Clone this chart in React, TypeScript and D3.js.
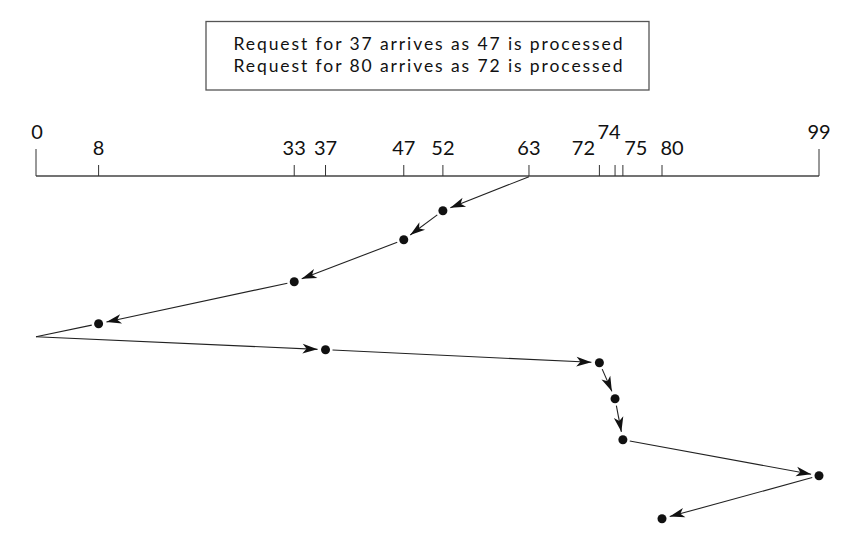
import React from "react";
import * as d3 from "d3";

// ---- data ----
const tickTracks = [0, 8, 33, 37, 47, 52, 63, 72, 74, 75, 80, 99];
const raisedLabels = [0, 74, 99];
const visitTracks = [63, 52, 47, 33, 8, 0, 37, 72, 74, 75, 99, 80];
const visitTimes = [0, 34, 63, 105, 147, 160, 173, 186, 222, 263, 299, 342];
const requestTracks = [52, 47, 33, 8, 37, 72, 74, 75, 99, 80];
const noteLines = [
  "Request for 37 arrives as 47 is processed",
  "Request for 80 arrives as 72 is processed",
];

const W = 851;
const H = 541;
const FONT = "Lato, 'Open Sans', sans-serif";
const AXIS_Y = 176;

const labelNudge: Record<number, number> = { 0: 1, 72: -16, 74: -6, 75: 13, 80: 10 };

export default function App() {
  const x = d3.scaleLinear().domain([0, 80, 99]).range([36, 662, 819]);
  const y = d3.scaleLinear().domain([0, 342]).range([176.7, 518.7]);

  const pts = visitTracks.map((t, i) => ({
    t,
    x: x(t),
    y: y(visitTimes[i]),
    dot: i > 0 && requestTracks.includes(t),
  }));

  const segs = pts.slice(1).map((p, i) => {
    const a = pts[i];
    const dx = p.x - a.x;
    const dy = p.y - a.y;
    const len = Math.hypot(dx, dy);
    const ux = dx / len;
    const uy = dy / len;
    const g0 = a.dot ? 7 : 0;
    const g1 = p.dot ? 8 : 0;
    return {
      x1: a.x + ux * g0,
      y1: a.y + uy * g0,
      x2: p.x - ux * g1,
      y2: p.y - uy * g1,
      arrow: p.dot,
      angle: (Math.atan2(dy, dx) * 180) / Math.PI,
    };
  });

  const line = d3.line<[number, number]>();

  return (
    <svg
      width={W}
      height={H}
      style={{ position: "fixed", left: 0, top: 0, background: "#fff" }}
      fontFamily={FONT}
    >
      {/* note box */}
      <rect x={206} y={21.5} width={443} height={68.5} fill="none" stroke="#555" strokeWidth={1.3} />
      {noteLines.map((s, i) => (
        <text
          key={i}
          x={428}
          y={50.3 + i * 21.2}
          textAnchor="middle"
          fontSize={17.5}
          textLength={389}
          lengthAdjust="spacing"
          fill="#111"
        >
          {s}
        </text>
      ))}

      {/* axis */}
      <line x1={x(0)} x2={x(99)} y1={AXIS_Y} y2={AXIS_Y} stroke="#444" strokeWidth={1.5} />
      {tickTracks.map((t) => {
        const end = t === 0 || t === 99;
        return (
          <g key={t}>
            <line
              x1={x(t)}
              x2={x(t)}
              y1={end ? 149 : 165}
              y2={AXIS_Y}
              stroke="#333"
              strokeWidth={1}
            />
            <text
              x={x(t) + (labelNudge[t] || 0)}
              y={raisedLabels.includes(t) ? 139 : 155}
              textAnchor="middle"
              fontSize={20}
              fill="#111"
            >
              {t}
            </text>
          </g>
        );
      })}

      {/* path segments */}
      {segs.map((s, i) => (
        <g key={i}>
          <path
            d={line([
              [s.x1, s.y1],
              [s.x2, s.y2],
            ]) || ""}
            stroke="#222"
            strokeWidth={1.1}
            fill="none"
          />
          {s.arrow && (
            <path
              d="M0,0 L-15,-4.8 L-11,0 L-15,4.8 Z"
              transform={`translate(${s.x2},${s.y2}) rotate(${s.angle})`}
              fill="#111"
            />
          )}
        </g>
      ))}

      {/* request dots */}
      {pts
        .filter((p) => p.dot)
        .map((p, i) => (
          <circle key={i} cx={p.x} cy={p.y} r={4.5} fill="#111" />
        ))}
    </svg>
  );
}
